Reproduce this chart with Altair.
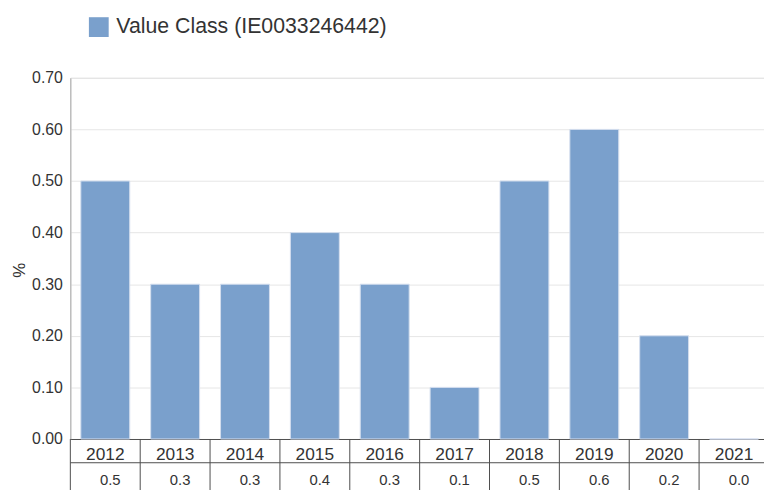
import altair as alt
import pandas as pd

years = ["2012", "2013", "2014", "2015", "2016", "2017", "2018", "2019", "2020", "2021"]
values = [0.5, 0.3, 0.3, 0.4, 0.3, 0.1, 0.5, 0.6, 0.2, 0.0]
series_name = "Value Class (IE0033246442)"
y_ticks = [0.0, 0.1, 0.2, 0.3, 0.4, 0.5, 0.6, 0.7]

BAR = "#7aa0cc"
TXT = "#333333"
LINE = "#4d4d4d"
FONT = "Liberation Sans"

W, H = 701, 365
XR = 706
STEP = XR / len(years)

df = pd.DataFrame({"year": years, "value": values, "series": [series_name] * len(years)})

x_axis = alt.Axis(title=None, labelAngle=0, labelFontSize=17.5, labelColor=TXT,
                  labelPadding=7, ticks=False, domainColor=LINE, domainWidth=1,
                  grid=False)
x_scale = alt.Scale(paddingInner=0.3, paddingOuter=0.15, range=[0, XR])

y_enc = alt.Y("value:Q", scale=alt.Scale(domain=[0, 0.7], nice=False),
              axis=alt.Axis(title="%", values=y_ticks, format=".2f", labelFontSize=16,
                            labelColor=TXT, ticks=False, labelPadding=8,
                            domainColor="#aaaaaa", gridColor="#e6e6e6",
                            titleFontSize=17, titleFontWeight="normal", titleColor=TXT,
                            titleX=-46, titleY=194, titleBaseline="alphabetic",
                            titleAlign="center", titleAngle=270))

bars = alt.Chart(df).mark_bar(stroke="#d3deee", strokeWidth=1).encode(
    x=alt.X("year:N", sort=years, scale=x_scale, axis=x_axis),
    y=y_enc,
    color=alt.Color("series:N", scale=alt.Scale(range=[BAR]),
                    legend=alt.Legend(title=None, orient="none", legendX=18, legendY=-62,
                                      symbolType="square", symbolSize=400,
                                      symbolStrokeWidth=0, labelFontSize=21.5,
                                      labelColor=TXT, labelOffset=7, padding=0,
                                      labelLimit=0)),
)

seps = alt.Chart(df).mark_rule(color=LINE, strokeWidth=1, xOffset=-0.15 * STEP).encode(
    x=alt.X("year:N", sort=years, scale=x_scale, axis=x_axis, bandPosition=0),
    y=alt.value(H),
    y2=alt.value(H + 60),
)

vals = alt.Chart(df).mark_text(fontSize=15, color=TXT, baseline="middle", dx=5).encode(
    x=alt.X("year:N", sort=years, scale=x_scale, axis=x_axis),
    y=alt.value(H + 41),
    text=alt.Text("value:Q", format=".1f"),
)

hline = alt.Chart(pd.DataFrame({"a": [0]})).mark_rule(color=LINE, strokeWidth=1).encode(
    x=alt.value(0), x2=alt.value(XR), y=alt.value(H + 24)
)

chart = alt.layer(bars, seps, vals, hline).properties(
    width=W, height=H,
    autosize=alt.AutoSizeParams(type="none"),
    padding={"left": 63, "top": 68, "right": 0, "bottom": 50},
    background="white",
).configure_view(stroke=None).configure(font=FONT)

chart.save("out.html", embed_options={"renderer": "svg", "actions": False})
